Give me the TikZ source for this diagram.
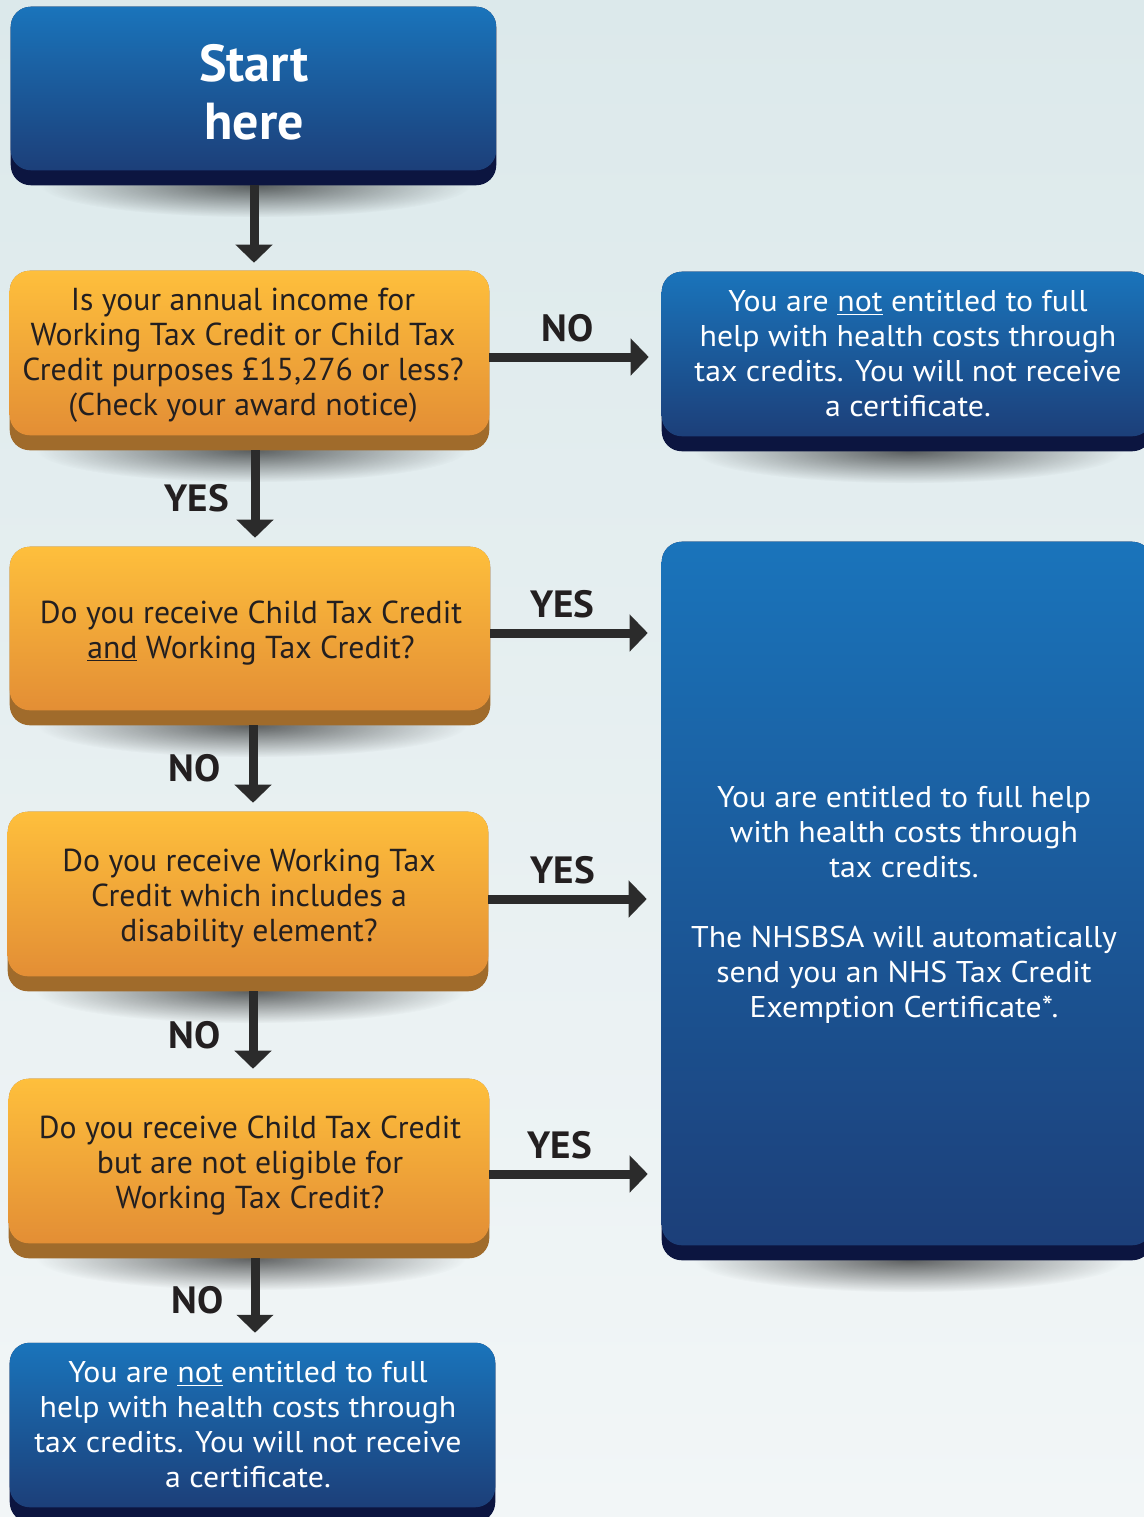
\documentclass[tikz,border=0pt]{standalone}
\usepackage{fontspec}
\setmainfont{PT Sans}
\newfontfamily\bluefont{PT Sans}[FakeStretch=1.06]
\newfontfamily\orfont{PT Sans}
\newfontfamily\lblfont{PT Sans}[FakeStretch=1.03]
\usetikzlibrary{arrows.meta,fadings,calc,fit}
\definecolor{bgtop}{HTML}{DCE9EB}
\definecolor{bgbot}{HTML}{F2F6F7}
\definecolor{bluetop}{HTML}{1A74BB}
\definecolor{bluebot}{HTML}{1C3F79}
\definecolor{blueslab}{HTML}{0C1540}
\definecolor{ortop}{HTML}{FEBF3C}
\definecolor{orbot}{HTML}{E38E35}
\definecolor{orslab}{HTML}{A06B2B}
\definecolor{arrowc}{HTML}{2B2B2B}
\definecolor{txtc}{HTML}{231F20}
\tikzfading[name=softshadow, inner color=transparent!20, outer color=transparent!100]
\newcommand{\flowbox}[6]{%
  \node[fit={(#2,#3) (#4,#5)}, inner sep=0pt] (#1) {};
  \fill[black, opacity=0.75, path fading=softshadow] ($(#1.south)+(2,0)$) ellipse [x radius=215, y radius=32];
  \fill[#6slab, rounded corners=15pt] (#1.north west) rectangle (#1.south east);
  \shade[top color=#6top, bottom color=#6bot, rounded corners=15pt] (#1.north west) rectangle ($(#1.south east)+(0,-15)$);
}
\begin{document}
\begin{tikzpicture}[x=0.75pt, y=-0.75pt,
  bluetxt/.style={text=white, align=center, inner sep=0pt, font=\bluefont\fontsize{22.5}{26.25}\selectfont},
  ortxt/.style={text=txtc, align=center, inner sep=0pt, font=\orfont\fontsize{23.8}{26.25}\selectfont},
  starttxt/.style={text=white, align=center, inner sep=0pt, font=\bfseries\fontsize{39}{43.5}\selectfont},
  lbl/.style={text=txtc, inner sep=0pt, font=\lblfont\bfseries\fontsize{28.5}{30}\selectfont},
  flow/.style={draw=arrowc, line width=6.75pt, -{Triangle[width=27pt,length=13.5pt]}}]
\useasboundingbox (0,0) rectangle (1144,1517);
\clip (0,0) rectangle (1144,1517);
\shade[top color=bgtop, bottom color=bgbot] (0,0) rectangle (1144,1517);

\flowbox{start}{11}{7}{496}{185}{blue}
\flowbox{q1}{10}{271}{489}{450}{or}
\flowbox{r1}{662}{272}{1152}{451}{blue}
\flowbox{q2}{10}{547}{490}{725}{or}
\flowbox{big}{662}{542}{1152}{1260}{blue}
\flowbox{q3}{8}{812}{488}{991}{or}
\flowbox{q4}{9}{1079}{489}{1258}{or}
\flowbox{fin}{10}{1343}{495}{1522}{blue}

\node[starttxt] (startt) at (254,92) {Start\\here};
\node[ortxt] (q1t) at (243,355) {Is your annual income for\\Working Tax Credit or Child Tax\\Credit purposes £15,276 or less?\\(Check your award notice)};
\node[bluetxt] (r1t) at (908,354) {You are \underline{not} entitled to full\\help with health costs through\\tax credits. You will not receive\\a certificate.};
\node[ortxt] (q2t) at (251,633) {Do you receive Child Tax Credit\\\underline{and} Working Tax Credit?};
\node[bluetxt] (bigt) at (904,905) {You are entitled to full help\\with health costs through\\tax credits.\\[26.25pt]The NHSBSA will automatically\\send you an NHS Tax Credit\\Exemption Certificate*.};
\node[ortxt] (q3t) at (249,899) {Do you receive Working Tax\\Credit which includes a\\disability element?};
\node[ortxt] (q4t) at (250,1166) {Do you receive Child Tax Credit\\but are not eligible for\\Working Tax Credit?};
\node[bluetxt] (fint) at (248,1425) {You are \underline{not} entitled to full\\help with health costs through\\tax credits. You will not receive\\a certificate.};

\draw[flow, shorten >=6pt] ($(start.south)+(0.5,0)$) -- ($(start.south |- q1.north)+(0.5,0)$);
\draw[flow, shorten >=9.75pt] ($(q1.east)+(0,-3.5)$) -- ($(q1.east -| r1.west)+(0,-3.5)$) node[lbl, pos=0.455, above=7.5pt] {NO};
\draw[flow, shorten >=6.75pt] ($(q1.south)+(5.5,0)$) -- ($(q1.south |- q2.north)+(5.5,0)$) node[lbl, midway, left=16pt] {YES};
\draw[flow, shorten >=10.5pt] ($(q2.east)+(0,-3)$) -- ($(q2.east -| big.west)+(0,-3)$) node[lbl, pos=0.42, above=7.5pt] {YES};
\draw[flow, shorten >=6.75pt] ($(q2.south)+(3,0)$) -- ($(q2.south |- q3.north)+(3,0)$) node[lbl, midway, left=21pt] {NO};
\draw[flow, shorten >=11.25pt] ($(q3.east)+(0,-2.5)$) -- ($(q3.east -| big.west)+(0,-2.5)$) node[lbl, pos=0.43, above=7.5pt] {YES};
\draw[flow, shorten >=7.5pt] ($(q3.south)+(5,0)$) -- ($(q3.south |- q4.north)+(5,0)$) node[lbl, midway, left=21pt] {NO};
\draw[flow, shorten >=10.5pt] ($(q4.east)+(0,5.5)$) -- ($(q4.east -| big.west)+(0,5.5)$) node[lbl, pos=0.41, above=7.5pt] {YES};
\draw[flow, shorten >=7.5pt] ($(q4.south)+(6,0)$) -- ($(q4.south |- fin.north)+(6,0)$) node[lbl, midway, left=20pt] {NO};
\end{tikzpicture}
\end{document}
